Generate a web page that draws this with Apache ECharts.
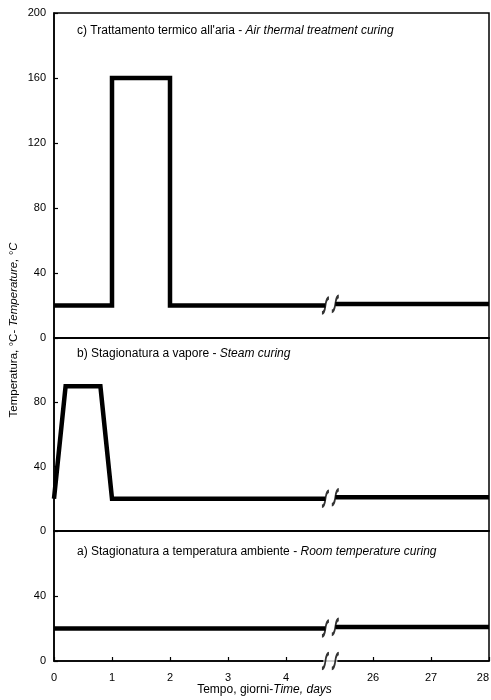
<!DOCTYPE html>
<html>
<head>
<meta charset="utf-8">
<script src="https://cdn.jsdelivr.net/npm/echarts@6/dist/echarts.min.js"></script>
<style>html,body{margin:0;padding:0;background:#fff;}#c{width:491px;height:700px;}</style>
</head>
<body>
<div id="c"></div>
<script>
// ---- data (days, °C); null = axis break ----
const xTickDays = [0, 1, 2, 3, 4, 26, 27, 28];
const daysC = [0, 1, 1, 2, 2, 4.68, null, 25.35, 28];
const tempC = [20, 20, 160, 160, 20, 20, null, 21, 21];
const daysB = [0, 0.2, 0.8, 1.0, 4.68, null, 25.35, 28];
const tempB = [20, 90, 90, 20, 20, null, 21, 21];
const daysA = [0, 4.68, null, 25.35, 28];
const tempA = [20, 20, null, 21, 21];
const titleC = ["c) Trattamento termico all'aria - ", "Air thermal treatment curing"];
const titleB = ["b) Stagionatura a vapore - ", "Steam curing"];
const titleA = ["a) Stagionatura a temperatura ambiente - ", "Room temperature curing"];
const yName = ["Temperatura, °C- ", "Temperature, °C"];
const xName = ["Tempo, giorni-", "Time, days"];
const yMax = [200, 120, 80];

// broken time scale: days 0..5 shown as is, days >= 25 shifted
const SHIFT = 20.5;
const pos = d => (d <= 5 ? d : d - SHIFT);
const unpos = v => (v <= 5 ? v : v + SHIFT);

function segments(days, temps) {
  const segs = [[]];
  days.forEach((d, i) => {
    if (d === null) segs.push([]);
    else segs[segs.length - 1].push([pos(d), temps[i]]);
  });
  return segs;
}
function breakPts(days, temps) {
  const pts = [];
  days.forEach((d, i) => {
    if (d === null) {
      pts.push([pos(days[i - 1]), temps[i - 1]]);
      pts.push([pos(days[i + 1]), temps[i + 1]]);
    }
  });
  return pts;
}

const FONT = 'Liberation Sans, Arial, sans-serif';
const grids = [
  { left: 54, right: 2, top: 13, height: 325 },
  { left: 54, right: 2, top: 338, height: 193 },
  { left: 54, right: 2, top: 531, height: 130 }
].map(g => Object.assign(g, { show: true, borderColor: '#000', borderWidth: 1.5, containLabel: false, outerBoundsMode: 'none' }));

const tickVals = xTickDays.map(pos);
const xAxes = [0, 1, 2].map(i => ({
  type: 'value', gridIndex: i, min: 0, max: pos(28),
  axisLine: { show: true, lineStyle: { color: '#000', width: 1.5 } },
  splitLine: { show: false },
  axisTick: i === 2 ? { show: true, inside: true, length: 4, customValues: tickVals, lineStyle: { color: '#000', width: 1.2 } } : { show: false },
  axisLabel: i === 2 ? { show: true, customValues: tickVals, alignMaxLabel: 'right', formatter: v => String(Math.round(unpos(v))), color: '#000', fontSize: 11, fontFamily: FONT, margin: 11 } : { show: false },
  name: i === 2 ? '{n|' + xName[0] + '}{i|' + xName[1] + '}' : '',
  nameLocation: 'middle', nameGap: 23,
  nameTextStyle: { padding: [0, 14, 0, 0], rich: { n: { fontSize: 12, fontFamily: FONT, color: '#000' }, i: { fontSize: 12, fontFamily: FONT, color: '#000', fontStyle: 'italic' } } }
}));
const yAxes = [0, 1, 2].map(i => ({
  type: 'value', gridIndex: i, min: 0, max: yMax[i], interval: 40,
  axisLine: { show: true, lineStyle: { color: '#000', width: 1.5 } },
  splitLine: { show: false },
  axisTick: { show: true, inside: true, length: 4, lineStyle: { color: '#000', width: 1.2 } },
  axisLabel: { color: '#000', fontSize: 11, fontFamily: FONT, margin: 8, showMaxLabel: i === 0 }
}));

const series = [];
const panels = [[daysC, tempC], [daysB, tempB], [daysA, tempA]];
panels.forEach(([d, t], i) => {
  segments(d, t).forEach(seg => series.push({
    type: 'line', xAxisIndex: i, yAxisIndex: i, data: seg, symbol: 'none',
    lineStyle: { color: '#000', width: 4.5, join: 'miter', cap: 'butt' }, animation: false
  }));
});
const markPath = 'path://M0,16 Q3,16 4,8 Q5,0 8,0';
// white gap on bottom axis between break marks
const axisBreak = breakPts(daysA, tempA).map(p => [p[0], 0]);
series.push({
  type: 'scatter', xAxisIndex: 2, yAxisIndex: 2, clip: false, z: 5, animation: false,
  data: [[(axisBreak[0][0] + axisBreak[1][0]) / 2, 0]], symbol: 'rect', symbolSize: [14, 5],
  itemStyle: { color: '#fff' }
});
panels.forEach(([d, t], i) => {
  const pts = breakPts(d, t);
  if (i === 2) axisBreak.forEach(p => pts.push(p));
  series.push({
    type: 'scatter', xAxisIndex: i, yAxisIndex: i, clip: false, z: 6, animation: false,
    data: pts, symbol: markPath, symbolSize: [7, 15],
    itemStyle: { color: 'rgba(0,0,0,0)', borderColor: '#000', borderWidth: 2.4 }
  });
});

const rich = { n: { fontSize: 12, fontFamily: FONT, color: '#000' }, i: { fontSize: 12, fontFamily: FONT, color: '#000', fontStyle: 'italic' } };
const richY = { n: { fontSize: 11.5, fontFamily: FONT, color: '#000' }, i: { fontSize: 11.5, fontFamily: FONT, color: '#000', fontStyle: 'italic' } };
const mkTitle = (t, top) => ({ text: '{n|' + t[0] + '}{i|' + t[1] + '}', left: 77, top: top, textStyle: { rich: rich, fontWeight: 'normal' }, padding: 0 });

const chart = echarts.init(document.getElementById('c'), null, { renderer: 'canvas' });
chart.setOption({
  backgroundColor: '#fff',
  animation: false,
  title: [mkTitle(titleC, 25), mkTitle(titleB, 348), mkTitle(titleA, 546)],
  grid: grids, xAxis: xAxes, yAxis: yAxes, series: series,
  graphic: [{
    type: 'text', x: 14, y: 330, rotation: Math.PI / 2,
    style: { text: '{n|' + yName[0] + '}{i|' + yName[1] + '}', rich: richY, align: 'center', verticalAlign: 'middle' }
  }]
});
</script>
</body>
</html>
